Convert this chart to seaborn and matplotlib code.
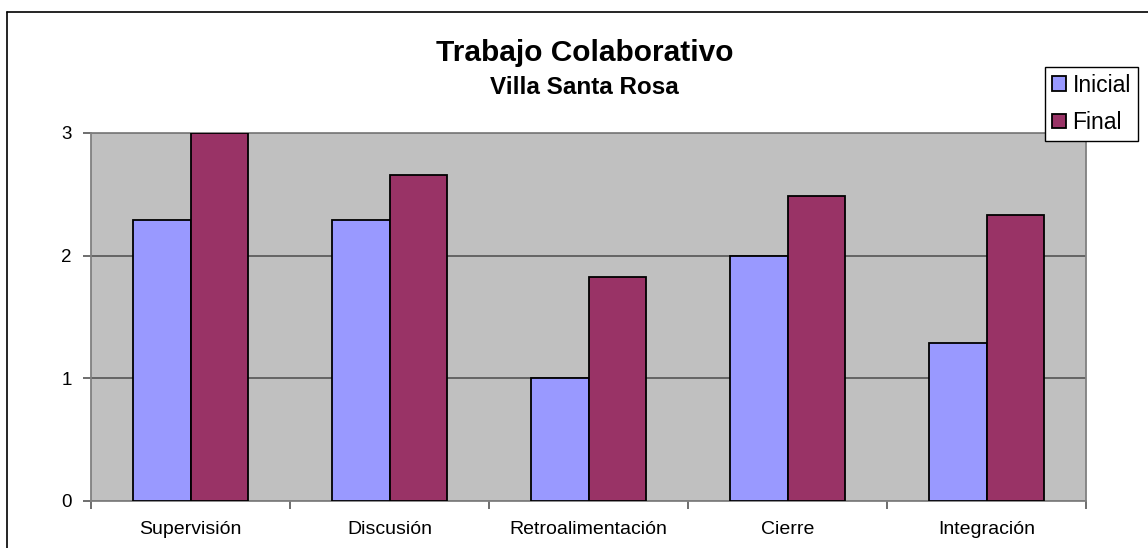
import matplotlib
matplotlib.use("Agg")
import matplotlib.pyplot as plt
import seaborn as sns
import pandas as pd
from matplotlib.lines import Line2D
from matplotlib.ticker import FixedLocator

categories = ["Supervisión", "Discusión", "Retroalimentación", "Cierre", "Integración"]
inicial = [2.29, 2.29, 1.0, 2.0, 1.29]
final = [3.0, 2.66, 1.83, 2.49, 2.33]
series = ["Inicial", "Final"]
colors = ["#9999FF", "#993366"]

df = pd.DataFrame({
    "Categoria": categories * 2,
    "Valor": inicial + final,
    "Serie": ["Inicial"] * len(categories) + ["Final"] * len(categories),
})

sns.set_style("white")
plt.rcParams["font.family"] = ["Liberation Sans", "DejaVu Sans"]
plt.rcParams["text.color"] = "black"
plt.rcParams["xtick.color"] = "black"
plt.rcParams["ytick.color"] = "black"

fig = plt.figure(figsize=(11.48, 5.48), dpi=100)
ax = fig.add_axes([0.0793, 0.0858, 0.8667, 0.6715])
ax.set_facecolor("#C0C0C0")

sns.barplot(data=df, x="Categoria", y="Valor", hue="Serie", hue_order=series,
            palette=colors, edgecolor="black", linewidth=1.3, width=0.58,
            saturation=1, ax=ax, legend=True, zorder=3)

ax.set_ylim(0, 3)
ax.set_xlim(-0.5, len(categories) - 0.5)
ax.set_yticks([0, 1, 2, 3])
ax.yaxis.grid(True, color="#555555", linewidth=1.2, zorder=0)
ax.set_axisbelow(True)
ax.set_xlabel("")
ax.set_ylabel("")

for s in ax.spines.values():
    s.set_color("#808080")
    s.set_linewidth(1.3)

ax.tick_params(axis="y", left=True, length=6, width=1.2, color="#555555",
               labelcolor="black", labelsize=13.5, pad=8)
ax.tick_params(axis="x", which="major", bottom=False, labelcolor="black",
               labelsize=14, pad=11)
ax.xaxis.set_minor_locator(FixedLocator([i - 0.5 for i in range(len(categories) + 1)]))
ax.tick_params(axis="x", which="minor", bottom=True, length=6, width=1.2, color="#555555")

leg = ax.legend(loc="upper right", bbox_to_anchor=(0.991, 0.878),
                bbox_transform=fig.transFigure, frameon=True, fancybox=False,
                edgecolor="black", framealpha=1, fontsize=16.5,
                handlelength=0.6, handleheight=0.6, handletextpad=0.3,
                borderpad=0.3, labelspacing=0.62, borderaxespad=0)
leg.get_frame().set_linewidth(1.0)
for h in leg.legend_handles:
    h.set_edgecolor("black")
for t in leg.get_texts():
    t.set_color("black")

fig.text(0.509, 1 - 61 / 548, "Trabajo Colaborativo", ha="center", va="baseline",
         fontsize=21.5, fontweight="bold", color="black")
fig.text(0.509, 1 - 94 / 548, "Villa Santa Rosa", ha="center", va="baseline",
         fontsize=17.5, fontweight="bold", color="black")

# frame of the original chart area (cropped on the right and bottom)
fig.add_artist(Line2D([7 / 1148, 7 / 1148], [0, 1 - 12 / 548],
                      transform=fig.transFigure, color="black", linewidth=1.2))
fig.add_artist(Line2D([7 / 1148, 1], [1 - 12 / 548, 1 - 12 / 548],
                      transform=fig.transFigure, color="black", linewidth=1.2))

fig.savefig("out.png", dpi=100, facecolor="white")
